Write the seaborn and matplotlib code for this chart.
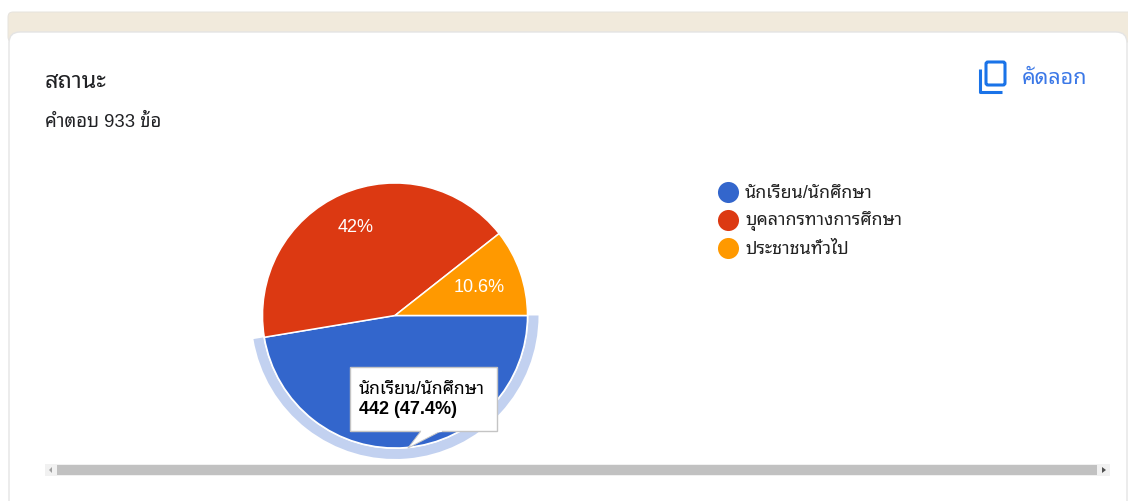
import matplotlib
matplotlib.use('Agg')
import matplotlib.pyplot as plt
from matplotlib.patches import FancyBboxPatch, Rectangle, Polygon, Wedge
import seaborn as sns

title = 'สถานะ'
subtitle = 'คำตอบ 933 ข้อ'
copy_label = 'คัดลอก'
categories = ['นักเรียน/นักศึกษา', 'บุคลากรทางการศึกษา', 'ประชาชนทั่วไป']
counts = [442, 392, 99]
colors = ['#3366cc', '#dc3912', '#ff9900']
tooltip_value = '442 (47.4%)'

sns.set_theme(style='white')
plt.rcParams['font.family'] = ['Liberation Sans', 'Noto Sans Thai Looped', 'DejaVu Sans']
palette = sns.color_palette(colors)

W, H = 1128, 501
fig = plt.figure(figsize=(W/100, H/100), dpi=100, facecolor='white')

# page and card, drawn in pixels from the top left
bg = fig.add_axes([0, 0, 1, 1], zorder=0)
bg.set_xlim(0, W)
bg.set_ylim(H, 0)
bg.axis('off')
bg.add_patch(FancyBboxPatch((8, 12), W, 30, boxstyle='round,pad=0,rounding_size=5', fc='#f1eadc', ec='#e6e3de', lw=0.7))
bg.add_patch(FancyBboxPatch((9, 32), 1118, 500, boxstyle='round,pad=0,rounding_size=11', fc='white', ec='#e4e4e4', lw=1))

bg.text(45, 82, title, fontsize=17, color='#202124', va='center')
bg.text(45, 122, subtitle, fontsize=13.3, color='#202124', va='center')
bg.text(1022, 78, copy_label, fontsize=15.5, color='#3b78e7', va='center')

# copy icon
bg.add_patch(FancyBboxPatch((986, 62), 19, 23, boxstyle='round,pad=0,rounding_size=2', fc='none', ec='#1a73e8', lw=2.2))
bg.plot([979.5, 979.5, 1002], [69, 92, 92], color='#1a73e8', lw=2.2, solid_capstyle='butt', solid_joinstyle='round')

# scrollbar
bg.add_patch(Rectangle((45, 464), 1065, 12, fc='#f1f1f1', ec='none'))
bg.add_patch(Rectangle((57, 465), 1040, 10, fc='#c1c1c1', ec='none'))
bg.add_patch(Polygon([[52, 467], [52, 473], [49, 470]], fc='#a0a0a0', ec='none'))
bg.add_patch(Polygon([[1102, 467], [1102, 473], [1106, 470]], fc='#505050', ec='none'))

# pie
cx, cy, r = 395, 315.5, 132.5
box = 150
ax = fig.add_axes([(cx-box)/W, 1-(cy+box)/H, 2*box/W, 2*box/H], zorder=1)
wedges, texts, autotexts = ax.pie(
    counts, colors=palette, startangle=0, counterclock=False, radius=1,
    autopct=lambda p: f'{p:.1f}'.removesuffix('.0') + '%', pctdistance=0.74,
    wedgeprops={'edgecolor': 'white', 'linewidth': 1.1},
    textprops={'color': 'white', 'fontsize': 13})
ax.set_xlim(-box/r, box/r)
ax.set_ylim(-box/r, box/r)
ax.set_aspect('equal')
x, y = autotexts[1].get_position()
autotexts[1].set_position((x, y-1.5/r))
x, y = autotexts[2].get_position()
autotexts[2].set_position((x*0.91, y*0.91-1.5/r))
autotexts[0].set_visible(False)  # sits under the tooltip

# highlight ring round the first slice
w = wedges[0]
ax.add_patch(Wedge((0, 0), 143.5/r, w.theta1, w.theta2, width=10/r, fc='#c2d1f0', ec='none', zorder=0.5))

# legend and tooltip on top
top = fig.add_axes([0, 0, 1, 1], zorder=2)
top.set_xlim(0, W)
top.set_ylim(H, 0)
top.axis('off')
top.patch.set_alpha(0)
for i, name in enumerate(categories):
    ly = 192 + i*28
    top.scatter([728], [ly], s=230, color=palette[i], linewidths=0)
    top.text(745, ly+1, name, fontsize=12.8, color='#222222', va='center')

top.add_patch(Rectangle((349.5, 367), 147.5, 64, fc='white', ec='#c4c4c4', lw=1, zorder=3))
top.add_patch(Polygon([[421, 431], [408, 448], [441, 431]], closed=True, fc='white', ec='none', zorder=4))
top.plot([421, 408, 441], [431, 448, 431], color='#c8c8c8', lw=0.7, zorder=4)
top.plot([421.5, 440.5], [431, 431], color='white', lw=1.6, zorder=5)
top.text(359, 389, categories[0], fontsize=12.7, color='black', va='center', zorder=6)
top.text(359, 410, tooltip_value, fontsize=13, color='black', va='center', fontweight='bold', zorder=6)

fig.savefig('out.png', dpi=100)
